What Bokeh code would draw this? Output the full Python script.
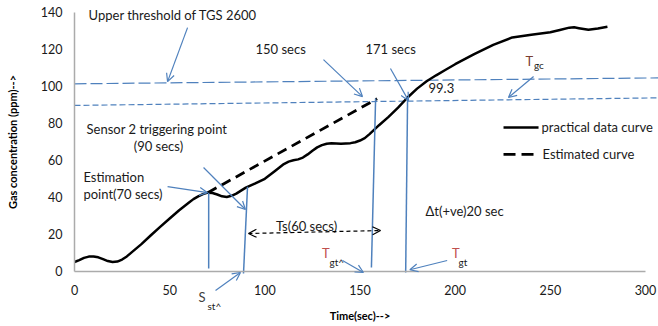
from bokeh.plotting import figure
from bokeh.models import Range1d, FixedTicker, Arrow, OpenHead
from bokeh.core.properties import value
from bokeh.embed import file_html
from bokeh.resources import INLINE

# ---- data ----
time_s = [0, 2.5, 5, 7.5, 10, 12.5, 15, 17.5, 20, 22.5, 25, 27.5, 30, 35, 40, 45,
          50, 55, 60, 62.5, 65, 67.5, 70, 72.5, 75, 77.5, 80, 82.5, 85, 87.5, 90,
          95, 100, 105, 110, 112.5, 115, 117.5, 120, 122.5, 125, 127.5, 130,
          132.5, 135, 140, 145, 147.5, 150, 152.5, 155, 160, 165, 170, 175, 180,
          185, 190, 195, 200, 210, 220, 230, 240, 250, 255, 260, 262.5, 265, 270,
          275, 280]
gas_ppm = [5, 6, 7.2, 7.9, 8, 7.5, 6.5, 5.5, 5, 5.2, 6.3, 8, 10.2, 14.5, 19.3, 24,
           28.5, 33, 37, 39, 40.5, 41.7, 42.5, 42.3, 41.5, 40.5, 40.2, 40.8, 42,
           43.6, 45.2, 47.5, 50, 54, 58, 59.3, 60, 60.5, 61.5, 63.2, 65.2, 67,
           68.2, 69, 69.2, 69, 69.3, 69.8, 70.7, 72, 74.2, 79, 83.5, 88.5, 94,
           98.8, 102.8, 106, 109, 112, 117.5, 122.5, 126.5, 128, 129.3, 130.5,
           131.8, 132, 131.5, 130.6, 131.3, 132.3]
est_time = [70, 159]
est_ppm = [42.5, 93.3]
x_ticks = [0, 50, 100, 150, 200, 250, 300]
y_ticks = [0, 20, 40, 60, 80, 100, 120, 140]
upper_thr_t = [0, 307]
upper_thr_v = [101.4, 104.6]
lower_thr_t = [0, 307]
lower_thr_v = [89.7, 93.8]

BLUE = "#4F81BD"
FONT = value("Lato")
TXT = "#1a1a1a"

p = figure(width=658, height=326, x_range=Range1d(-38.88, 306.83),
           y_range=Range1d(-29.92, 146.48), output_backend="svg",
           toolbar_location=None, min_border=0)
p.xgrid.visible = False
p.ygrid.visible = False
p.outline_line_color = None
p.background_fill_color = "white"
p.border_fill_color = "white"

for ax in (p.xaxis[0], p.yaxis[0]):
    ax.fixed_location = 0
    ax.axis_line_color = "#ABABAB"
    ax.axis_line_width = 1.5
    ax.major_tick_line_color = None
    ax.minor_tick_line_color = None
    ax.major_tick_in = 0
    ax.major_tick_out = 0
    ax.major_label_text_font = "Lato"
    ax.major_label_text_font_size = "12.5px"
    ax.major_label_text_color = TXT
    ax.axis_label_text_font = "Lato"
    ax.axis_label_text_font_style = "bold"
    ax.axis_label_text_font_size = "11px"
    ax.axis_label_text_color = "#000000"

p.xaxis.bounds = (0, 300)
p.yaxis.bounds = (0, 140)
p.xaxis.ticker = FixedTicker(ticks=x_ticks)
p.yaxis.ticker = FixedTicker(ticks=y_ticks)
p.xaxis.major_label_standoff = 14
p.yaxis.major_label_standoff = 12
p.xaxis.axis_label = "Time(sec)-->"
p.yaxis.axis_label = "Gas concentration (ppm)-->"
p.xaxis.axis_label_standoff = 10
p.yaxis.axis_label_standoff = 19

# threshold lines
p.line(upper_thr_t, upper_thr_v, line_color=BLUE, line_width=1.2, line_dash="12 4")
p.line(lower_thr_t, lower_thr_v, line_color=BLUE, line_width=1.2, line_dash="6 3")

# curves
p.line(time_s, gas_ppm, line_color="black", line_width=2.5, line_join="round")
p.line(est_time, est_ppm, line_color="black", line_width=2.8, line_dash="10 6")

# vertical blue markers
p.segment(x0=[70.5, 90.9, 158.2, 175.0], y0=[42.5, 45.7, 93.4, 94.0],
          x1=[70.5, 88.8, 156.0, 174.0], y1=[1.5, -1.2, 2.0, -0.7],
          line_color=BLUE, line_width=1.5)

# blue arrows
arrows = [
    (59.4, 131.8, 48.9, 102.6),
    (130.8, 114.5, 151.3, 94.5),
    (166.0, 109.7, 175.5, 92.3),
    (241.2, 105.4, 228.0, 94.0),
    (67.8, 56.1, 89.8, 33.4),
    (48.9, 45.8, 69.9, 42.5),
    (74.1, -10.4, 87.2, -0.7),
    (140.8, 5.8, 151.8, -0.7),
    (195.8, 5.8, 176.2, 0.8),
]
for xs, ys, xe, ye in arrows:
    p.add_layout(Arrow(end=OpenHead(size=8, line_color=BLUE, line_width=1.2),
                       x_start=xs, y_start=ys, x_end=xe, y_end=ye,
                       line_color=BLUE, line_width=1.2))

# Ts double arrow (dashed)
p.add_layout(Arrow(start=OpenHead(size=8, line_color="black", line_width=1.2),
                   end=OpenHead(size=8, line_color="black", line_width=1.2),
                   x_start=91.4, y_start=20.4, x_end=160.8, y_end=22.0,
                   line_color="black", line_width=1.2, line_dash="4 3"))

# legend (drawn)
p.line([225.4, 243.8], [77.8, 77.8], line_color="black", line_width=2.5)
p.line([225.4, 242.0], [63.2, 63.2], line_color="black", line_width=2.8, line_dash="12 6")

def txt(x, y, s, align="left", size="13px", color=TXT):
    p.text(x=[x], y=[y], text=[s], text_font=FONT, text_font_size=size,
           text_align=align, text_baseline="middle", text_color=color)

txt(7.4, 138.4, "Upper threshold of TGS 2600")
txt(95.1, 120.5, "150 secs")
txt(152.9, 120.5, "171 secs")
txt(186.0, 98.9, "99.3")
txt(43.3, 77.2, "Sensor 2 triggering point", align="center")
txt(44.1, 67.5, "(90 secs)", align="center")
txt(4.7, 51.2, "Estimation")
txt(4.7, 42.0, "point(70 secs)")
txt(121.9, 24.7, "Ts(60 secs)", align="center")
txt(184.4, 32.8, "\u0394t(+ve)20 sec")
txt(245.4, 77.8, "practical data curve")
txt(245.9, 63.2, "Estimated curve")

# subscripted symbols
txt(237.0, 113.9, "T", color="#7A3E32")
txt(241.4, 111.6, "gc", size="10px")
txt(130.0, 9.6, "T", color="#C0504D")
txt(134.0, 5.2, "gt^", size="10px")
txt(198.3, 9.6, "T", color="#C0504D")
txt(201.8, 5.2, "gt", size="10px")
txt(65.2, -14.2, "S", color="#404040")
txt(69.9, -18.6, "st^", size="10px")

open("out.html", "w").write(file_html(p, INLINE))
